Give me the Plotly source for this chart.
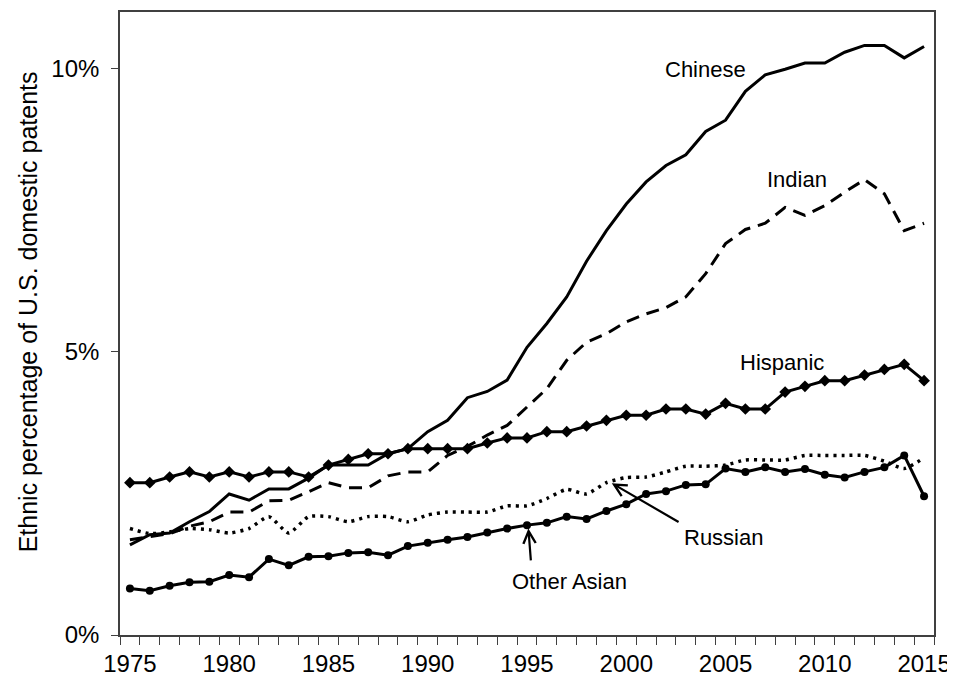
import plotly.graph_objects as go

years = list(range(1975, 2016))

chinese = [1.59, 1.77, 1.80, 2.00, 2.18, 2.49, 2.38, 2.58, 2.58, 2.77,
           3.00, 3.00, 3.00, 3.20, 3.29, 3.59, 3.79, 4.19, 4.30, 4.50,
           5.08, 5.50, 5.97, 6.60, 7.14, 7.61, 8.00, 8.29, 8.48, 8.89,
           9.09, 9.60, 9.89, 9.99, 10.10, 10.10, 10.29, 10.41, 10.41, 10.19,
           10.39]
indian = [1.68, 1.73, 1.79, 1.92, 2.00, 2.17, 2.17, 2.37, 2.38, 2.53,
          2.69, 2.60, 2.60, 2.81, 2.88, 2.88, 3.17, 3.33, 3.53, 3.70,
          4.03, 4.35, 4.85, 5.17, 5.32, 5.53, 5.67, 5.78, 5.97, 6.38,
          6.91, 7.16, 7.27, 7.55, 7.41, 7.58, 7.82, 8.04, 7.79, 7.14,
          7.27]
hispanic = [2.69, 2.69, 2.79, 2.88, 2.79, 2.88, 2.79, 2.88, 2.88, 2.79,
            3.00, 3.10, 3.20, 3.20, 3.29, 3.29, 3.29, 3.29, 3.39, 3.48,
            3.48, 3.59, 3.59, 3.69, 3.79, 3.88, 3.88, 3.99, 3.99, 3.90,
            4.09, 3.99, 3.99, 4.29, 4.39, 4.49, 4.49, 4.59, 4.69, 4.78,
            4.49]
other_asian = [0.82, 0.78, 0.87, 0.93, 0.94, 1.06, 1.02, 1.34, 1.23, 1.38,
               1.39, 1.45, 1.46, 1.41, 1.57, 1.63, 1.68, 1.73, 1.81, 1.88,
               1.94, 1.98, 2.09, 2.05, 2.19, 2.31, 2.49, 2.54, 2.65, 2.66,
               2.94, 2.88, 2.96, 2.88, 2.93, 2.83, 2.78, 2.88, 2.96, 3.17,
               2.45]
russian = [1.88, 1.79, 1.82, 1.88, 1.86, 1.80, 1.88, 2.09, 1.80, 2.09,
           2.09, 2.00, 2.09, 2.09, 2.00, 2.12, 2.17, 2.17, 2.17, 2.28,
           2.28, 2.41, 2.57, 2.49, 2.69, 2.78, 2.79, 2.88, 2.98, 2.98,
           3.00, 3.09, 3.09, 3.09, 3.17, 3.17, 3.17, 3.17, 3.07, 2.94,
           3.13]

x_tick_vals = [1975, 1980, 1985, 1990, 1995, 2000, 2005, 2010, 2015]
x_tick_text = ["1975", "1980", "1985", "1990", "1995", "2000", "2005", "2010", "2015"]
y_tick_vals = [0, 5, 10]
y_tick_text = ["0%", "5%", "10%"]
y_title = "Ethnic percentage of U.S. domestic patents"

FONT = "Liberation Sans, Arial, sans-serif"

fig = go.Figure()
fig.add_trace(go.Scatter(x=years, y=russian, mode="lines", name="Russian",
                         line=dict(color="black", width=3.5, dash="3px,5px",
                                   shape="spline", smoothing=0.6)))
fig.add_trace(go.Scatter(x=years, y=indian, mode="lines", name="Indian",
                         line=dict(color="black", width=3, dash="13px,8px")))
fig.add_trace(go.Scatter(x=years, y=chinese, mode="lines", name="Chinese",
                         line=dict(color="black", width=3)))
fig.add_trace(go.Scatter(x=years, y=hispanic, mode="lines+markers", name="Hispanic",
                         line=dict(color="black", width=3),
                         marker=dict(symbol="diamond", size=9, color="black")))
fig.add_trace(go.Scatter(x=years, y=other_asian, mode="lines+markers", name="Other Asian",
                         line=dict(color="black", width=3),
                         marker=dict(symbol="circle", size=8, color="black")))

ann_font = dict(family=FONT, size=22, color="black")
annotations = [
    dict(x=2003.97, y=9.99, text="Chinese", showarrow=False, font=ann_font),
    dict(x=2008.6, y=8.05, text="Indian", showarrow=False, font=ann_font),
    dict(x=2007.85, y=4.82, text="Hispanic", showarrow=False, font=ann_font),
    dict(x=2004.92, y=1.73, text="Russian", showarrow=False, font=ann_font),
    dict(x=1997.12, y=0.95, text="Other Asian", showarrow=False, font=ann_font),
    dict(x=1999.27, y=2.68, ax=2002.71, ay=1.98, axref="x", ayref="y",
         text="", showarrow=True, arrowhead=5, arrowsize=1.1, arrowwidth=2.2,
         arrowcolor="black"),
    dict(x=1995.07, y=1.88, ax=1995.2, ay=1.29, axref="x", ayref="y",
         text="", showarrow=True, arrowhead=5, arrowsize=1.1, arrowwidth=2.2,
         arrowcolor="black"),
    dict(xref="paper", yref="paper", x=-0.113, y=0.518, xanchor="center",
         yanchor="middle", textangle=-90, text=y_title, showarrow=False,
         font=dict(family=FONT, size=25, color="black")),
]

# the page body has an 8px margin, so the figure is drawn 8px in from the top-left
fig.update_layout(
    width=947, height=669,
    margin=dict(l=112, r=21, t=4, b=42, autoexpand=False),
    paper_bgcolor="white", plot_bgcolor="white",
    showlegend=False,
    font=dict(family=FONT, color="black"),
    annotations=annotations,
    xaxis=dict(
        range=[1974.5, 2015.5], automargin=False,
        tickmode="array", tickvals=x_tick_vals, ticktext=x_tick_text,
        ticks="", tickfont=dict(size=24, color="black"),
        ticklabelstandoff=6,
        showgrid=False, zeroline=False,
        showline=True, linecolor="#404040", linewidth=1.6, mirror=True,
        minor=dict(tick0=1974.5, dtick=1, ticks="outside", ticklen=8,
                   tickwidth=1.3, tickcolor="#404040", showgrid=False),
    ),
    yaxis=dict(
        range=[0, 11], automargin=False,
        tickmode="array", tickvals=y_tick_vals, ticktext=y_tick_text,
        ticks="outside", ticklen=7, tickwidth=1.3, tickcolor="#404040",
        tickfont=dict(size=24, color="black"),
        ticklabelstandoff=7,
        showgrid=False, zeroline=False,
        showline=True, linecolor="#404040", linewidth=1.6, mirror=True,
    ),
)

fig.write_html("out.html")
